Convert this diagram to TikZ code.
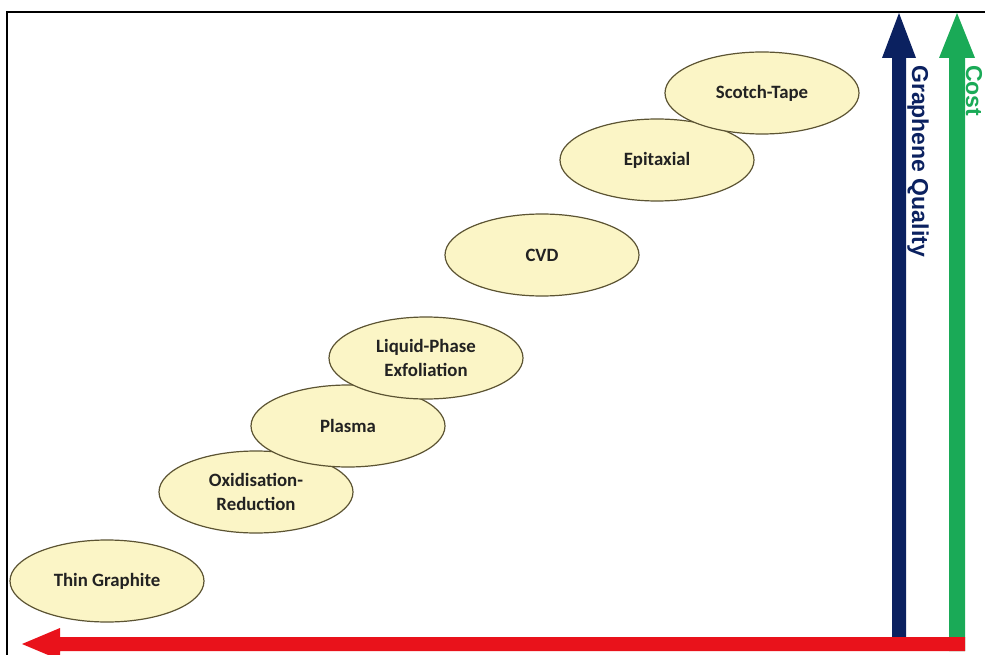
\documentclass[tikz,border=0pt]{standalone}
\usepackage{fontspec}
\setmainfont{Carlito}
\newfontfamily\arialbold{Liberation Sans Bold}
\usetikzlibrary{shapes.geometric}
\definecolor{efill}{HTML}{FBF5C6}
\definecolor{edraw}{HTML}{5C5433}
\definecolor{etext}{HTML}{222222}
\definecolor{navyq}{HTML}{0B2160}
\definecolor{greenc}{HTML}{1AAA57}
\definecolor{redx}{HTML}{E9121B}
\tikzset{
  method/.style={ellipse, draw=edraw, line width=1.2pt, fill=efill,
    minimum width=194pt, minimum height=82pt, inner sep=0pt,
    font=\bfseries\fontsize{18.8}{24}\selectfont, text=etext, align=center},
  axislabel/.style={rotate=-90, anchor=base west, inner sep=0pt,
    font=\arialbold\fontsize{23}{26}\selectfont},
}
\begin{document}
\begin{tikzpicture}[x=1pt,y=-1pt]
\useasboundingbox (0,0) rectangle (985,655);
\fill[white] (0,0) rectangle (985,655);
% frame
\draw[black, line width=2pt] (7,656) -- (7,12) -- (986,12);
% ellipses bottom to top
\node[method] (thin) at (107,581) {Thin Graphite};
\node[method] (oxi) at (256,492) {Oxidisation-\\Reduction};
\node[method] (plasma) at (348,426) {Plasma};
\node[method] (lpe) at (426,358) {Liquid-Phase\\Exfoliation};
\node[method] (cvd) at (542,255) {CVD};
\node[method] (epi) at (657,160) {Epitaxial};
\node[method] (scotch) at (762,93) {Scotch-Tape};
% green cost arrow
\fill[greenc] (949,651) -- (949,58) -- (939,58) -- (957,13) -- (975,58) -- (965,58) -- (965,651) -- cycle;
% navy quality arrow
\fill[navyq] (892,640) -- (892,58) -- (882,58) -- (899,13) -- (916,58) -- (906,58) -- (906,640) -- cycle;
% red arrow
\fill[redx] (965,637) -- (60,637) -- (60,628) -- (22,644) -- (60,660) -- (60,651) -- (965,651) -- cycle;
% labels
\node[axislabel, text=navyq] (ql) at (912,65) {Graphene Quality};
\node[axislabel, text=greenc] (cl) at (966,65) {Cost};
\end{tikzpicture}
\end{document}
